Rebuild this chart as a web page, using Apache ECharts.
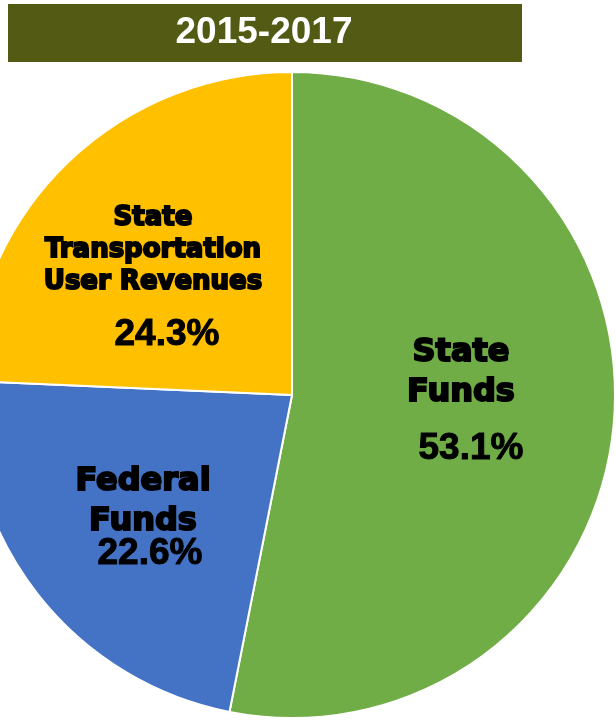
<!DOCTYPE html>
<html>
<head>
<meta charset="utf-8">
<script src="https://cdn.jsdelivr.net/npm/echarts@6/dist/echarts.min.js"></script>
<style>
    html, body { margin: 0; padding: 0; background: #fff; }
    #chart { width: 616px; height: 720px; }
</style>
</head>
<body>
<div id="chart"></div>
<script>
/*data*/
var titleText = '2015-2017';
var names = ['State\nFunds', 'Federal\nFunds', 'State\nTransportation\nUser Revenues'];
var shares = [53.1, 22.6, 24.3];
var colors = ['#70AD47', '#4472C4', '#FFC000'];

/*label block placement (top-centre of each block), and per-label tweaks*/
var labelPos = [[461, 333], [143, 462], [153, 202]];
var nameSize = [32, 32, 26];
var nameLine = [40, 40, 32];
var pctLine = [72, 24, 73];
var pctShift = [20, 14, 28];

var myChart = echarts.init(document.getElementById('chart'));

var pieData = [];
for (var i = 0; i < names.length; i++) {
    pieData.push({
        name: names[i],
        value: shares[i],
        itemStyle: { color: colors[i] },
        label: {
            rich: {
                n: {
                    fontFamily: 'DejaVu Sans',
                    fontWeight: 'bold',
                    fontSize: nameSize[i],
                    lineHeight: nameLine[i],
                    color: '#000',
                    textBorderColor: '#000',
                    textBorderWidth: 2
                },
                p: {
                    fontFamily: 'Liberation Sans',
                    fontWeight: 'bold',
                    fontSize: 37,
                    lineHeight: pctLine[i],
                    color: '#000',
                    textBorderColor: '#000',
                    textBorderWidth: 1,
                    padding: [0, 0, 0, pctShift[i]]
                }
            }
        }
    });
}

var option = {
    animation: false,
    graphic: [
        {
            type: 'rect',
            shape: { x: 8, y: 4, width: 514, height: 58 },
            style: { fill: '#525A14' }
        },
        {
            type: 'text',
            x: 264,
            y: 33,
            style: {
                text: titleText,
                fill: '#fff',
                fontSize: 37,
                fontWeight: 'bold',
                fontFamily: 'Liberation Sans',
                align: 'center',
                verticalAlign: 'middle'
            }
        }
    ],
    series: [
        {
            type: 'pie',
            center: [292, 395],
            radius: 323,
            startAngle: 90,
            clockwise: true,
            itemStyle: { borderColor: '#fff', borderWidth: 2 },
            label: {
                show: true,
                position: 'inside',
                formatter: function (p) {
                    return '{n|' + p.name + '}\n{p|' + p.value.toFixed(1) + '%}';
                }
            },
            labelLine: { show: false },
            labelLayout: function (params) {
                var pos = labelPos[params.dataIndex];
                return { x: pos[0], y: pos[1], align: 'center', verticalAlign: 'top' };
            },
            data: pieData
        }
    ]
};
myChart.setOption(option);
</script>
</body>
</html>
